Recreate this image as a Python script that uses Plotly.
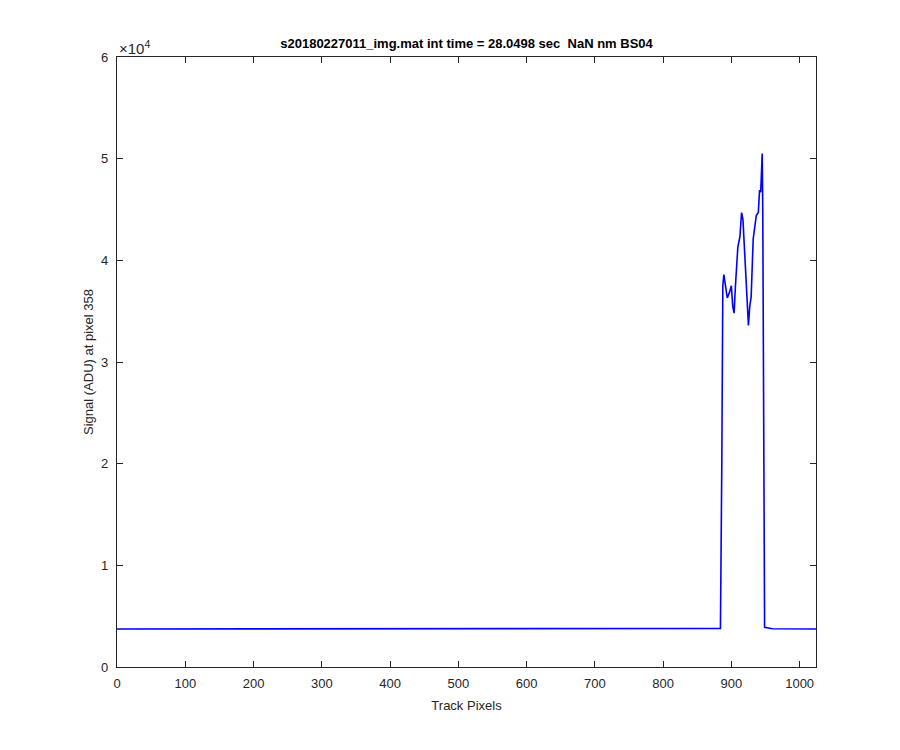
import plotly.graph_objects as go

# Track pixel positions and signal (ADU) values
track_px = [0, 200, 400, 600, 800, 884, 886, 887.5, 889, 891, 894, 897, 900, 902, 904,
            906, 909.5, 912.5, 915, 917, 919, 922, 925, 927, 929, 932, 936.5, 939.5,
            941.3, 943, 945.2, 946, 947.5, 948.7, 960, 1000, 1024]
signal = [3740, 3750, 3740, 3750, 3740, 3800, 20000, 37500, 38600, 37800, 36300, 36800, 37500,
          35500, 34800, 37500, 41300, 42300, 44700, 44000, 41000, 37000, 33600, 35500, 36400,
          42100, 44400, 44700, 46900, 46700, 50500, 45000, 20000, 3900, 3760, 3750, 3740]

xticks = [0, 100, 200, 300, 400, 500, 600, 700, 800, 900, 1000]
yticks = [0, 10000, 20000, 30000, 40000, 50000, 60000]
ytick_text = ["0", "1", "2", "3", "4", "5", "6"]

title_text = "s20180227011_img.mat int time = 28.0498 sec  NaN nm BS04"

axcol = "#262626"
font_family = "Liberation Sans, Arial, sans-serif"

W, H = 892, 742  # page body has an 8px margin

fig = go.Figure()
fig.add_trace(go.Scatter(x=track_px, y=signal, mode="lines",
                         line=dict(color="#0000ff", width=1.6), showlegend=False))

fig.update_layout(
    width=W, height=H,
    paper_bgcolor="white", plot_bgcolor="white",
    margin=dict(l=109, r=84, t=49, b=83),
    font=dict(family=font_family, size=13, color=axcol),
    title=dict(text="<b>" + title_text + "</b>", x=(109 + 808) / 2 / W, xanchor="center",
               y=1 - 35 / H, yanchor="middle", font=dict(size=13, color="#000000")),
    xaxis=dict(range=[0, 1024], tickvals=xticks, ticks="inside", ticklen=6, tickwidth=1,
               tickcolor=axcol, showline=True, linecolor=axcol, linewidth=1.2,
               mirror="ticks", showgrid=False, zeroline=False, ticklabelstandoff=4,
               title=dict(text="Track Pixels", standoff=11, font=dict(size=13)),
               tickfont=dict(size=13)),
    yaxis=dict(range=[0, 60000], tickvals=yticks, ticktext=ytick_text, ticks="inside",
               ticklen=6, tickwidth=1, tickcolor=axcol, showline=True, linecolor=axcol,
               linewidth=1.2, mirror="ticks", showgrid=False, zeroline=False,
               ticklabelstandoff=5,
               title=dict(text="Signal (ADU) at pixel 358", standoff=4, font=dict(size=13)),
               tickfont=dict(size=13)),
)

fig.add_annotation(text="\u00d710<sup>4</sup>", xref="paper", yref="paper", x=0, y=1,
                   xanchor="left", yanchor="bottom", showarrow=False,
                   font=dict(size=15, color=axcol), yshift=-2)

fig.write_html("out.html")
